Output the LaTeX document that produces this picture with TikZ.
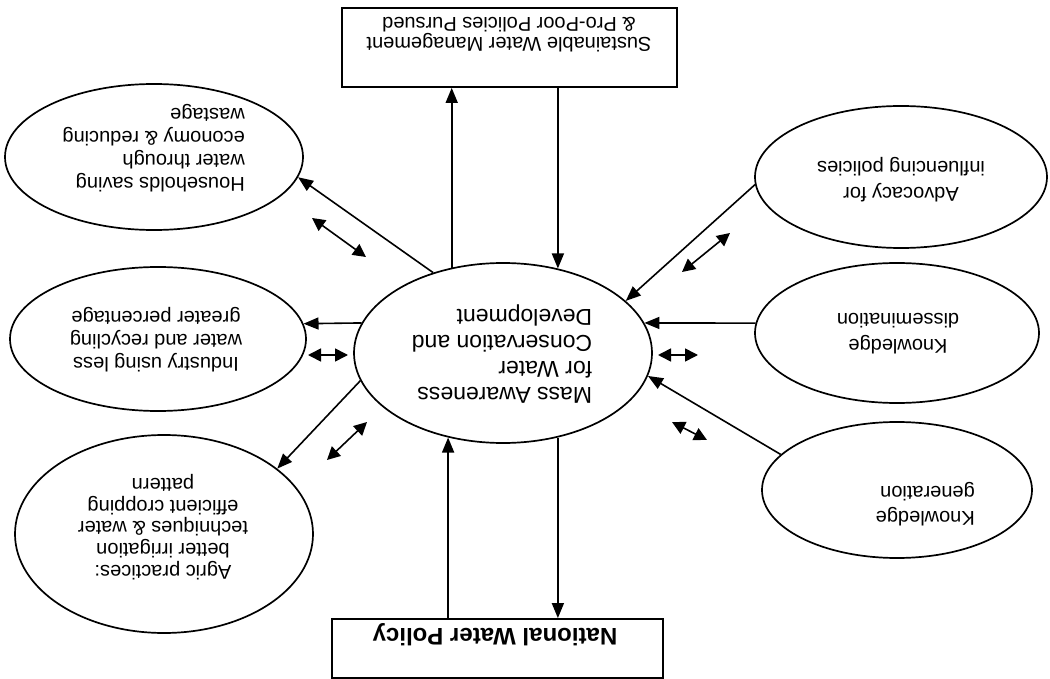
\documentclass[tikz,border=0pt]{standalone}
\usepackage{fontspec}
\setmainfont{Liberation Sans}
\usetikzlibrary{arrows.meta,shapes.geometric}
\tikzset{
  ell/.style={draw, ellipse, line width=1.7pt, inner sep=0pt},
  boxn/.style={draw, rectangle, line width=1.8pt, inner sep=0pt},
  txt/.style={rotate=180, inner sep=0pt, font=\fontsize{20}{23}\selectfont},
  arr/.style={line width=1.6pt, -{Triangle[length=15pt,width=12pt]}},
  dbl/.style={line width=1.6pt, {Triangle[length=13pt,width=13pt]}-{Triangle[length=13pt,width=13pt]}},
}
\begin{document}
\begin{tikzpicture}[x=1pt,y=-1pt]
\useasboundingbox (0,0) rectangle (1050,679);
% shapes
\node[ell, minimum width=298pt, minimum height=180pt] (c) at (503,353) {};
\node[ell, minimum width=298pt, minimum height=146pt] (hh) at (154,157) {};
\node[ell, minimum width=296pt, minimum height=144pt] (ind) at (158,339) {};
\node[ell, minimum width=298pt, minimum height=198pt] (agr) at (164,534) {};
\node[ell, minimum width=292pt, minimum height=142pt] (adv) at (901,177) {};
\node[ell, minimum width=284pt, minimum height=140pt] (kd) at (897,333) {};
\node[ell, minimum width=270pt, minimum height=136pt] (kg) at (897,490) {};
\node[boxn, minimum width=335pt, minimum height=79pt] (top) at (509.5,47.5) {};
\node[boxn, minimum width=331pt, minimum height=59pt] (bot) at (497.5,648.5) {};
% texts (upside down)
\node[txt, align=left, font=\fontsize{23}{26}\selectfont] (tc) at (502,354) {Mass Awareness\\for Water\\Conservation and\\Development};
\node[txt, align=left, anchor=west] (thh) at (245,148) {Households saving\\water through\\economy \& reducing\\wastage};
\node[txt, align=center] (tind) at (156,340) {Industry using less\\water and recycling\\greater percentage};
\node[txt, align=center, font=\fontsize{20}{21.75}\selectfont] (tagr) at (163,527) {Agric practices:\\better irrigation\\techniques \& water\\efficient cropping\\pattern};
\node[txt, align=center, font=\fontsize{20}{26}\selectfont] (tadv) at (901,180) {Advocacy for\\influencing policies};
\node[txt, align=center, font=\fontsize{20}{26}\selectfont] (tkd) at (898,334) {Knowledge\\dissemination};
\node[txt, align=left, anchor=west, font=\fontsize{20}{25}\selectfont] (tkg) at (975,504) {Knowledge\\generation};
\node[txt, align=center, font=\fontsize{20}{20}\selectfont] (ttop) at (509,35) {Sustainable Water Management\\\& Pro-Poor Policies Pursued};
\node[txt, font=\bfseries\fontsize{24}{26}\selectfont] (tbot) at (495,635) {National Water Policy};
% connectors
\draw[arr] (c.121) -- (c.121 |- top.south);
\draw[arr] (top.south -| c.57) -- (c.57);
\draw[arr] (c.131) -- (hh.352);
\draw[arr] (c.168) -- (ind.6);
\draw[arr] (c.191) -- (agr.30);
\draw[arr] (bot.north -| c.237) -- (c.237);
\draw[arr] (c.303) -- (c.303 |- bot.north);
\draw[arr] (adv.183) -- (c.23);
\draw[arr] (kd.176) -- (c.12);
\draw[arr] (kg.163) -- (c.351);
% double arrows
\coordinate (d1a) at (312,218); \coordinate (d1b) at (366,257);
\coordinate (d2a) at (308,355); \coordinate (d2b) at (348,355);
\coordinate (d3a) at (327,460); \coordinate (d3b) at (367,422);
\coordinate (d4a) at (682,272); \coordinate (d4b) at (730,233);
\coordinate (d5a) at (658,355); \coordinate (d5b) at (698,355);
\coordinate (d6a) at (672,422); \coordinate (d6b) at (707,440);
\draw[dbl] (d1a) -- (d1b);
\draw[dbl] (d2a) -- (d2b);
\draw[dbl] (d3a) -- (d3b);
\draw[dbl] (d4a) -- (d4b);
\draw[dbl] (d5a) -- (d5b);
\draw[dbl] (d6a) -- (d6b);
\end{tikzpicture}
\end{document}
